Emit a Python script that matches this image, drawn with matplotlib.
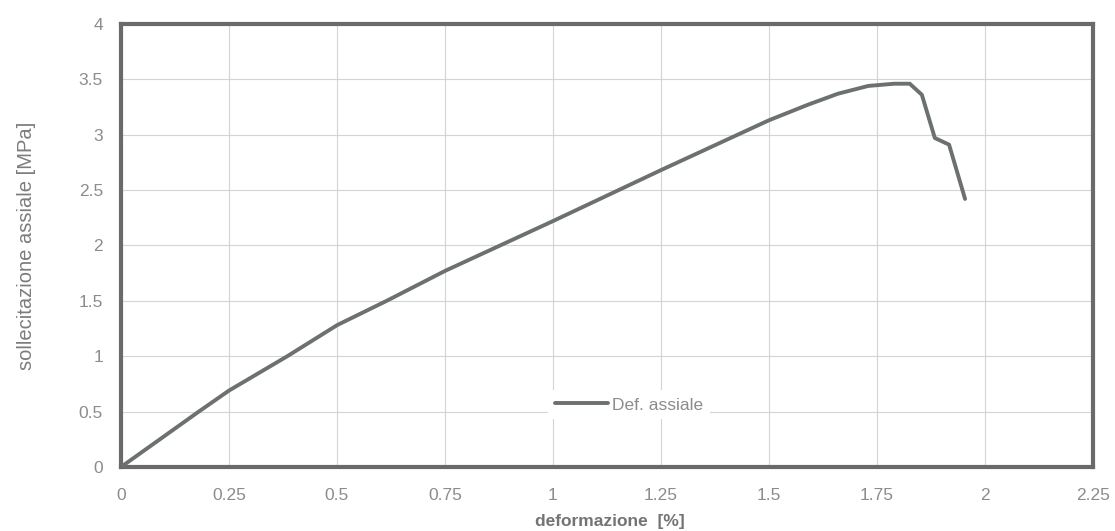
import matplotlib
matplotlib.use("Agg")
import matplotlib.pyplot as plt

deformazione = [0, 0.18, 0.25, 0.385, 0.5, 0.615, 0.75, 1.0, 1.25, 1.5, 1.59, 1.66,
                1.73, 1.79, 1.826, 1.854, 1.884, 1.917, 1.954]
sollecitazione = [0, 0.5, 0.69, 1.0, 1.28, 1.5, 1.77, 2.22, 2.68, 3.13, 3.27, 3.37,
                  3.44, 3.46, 3.46, 3.36, 2.97, 2.91, 2.42]
xticks = [0, 0.25, 0.5, 0.75, 1, 1.25, 1.5, 1.75, 2, 2.25]
xticklabels = ["0", "0.25", "0.5", "0.75", "1", "1.25", "1.5", "1.75", "2", "2.25"]
yticks = [0, 0.5, 1, 1.5, 2, 2.5, 3, 3.5, 4]
yticklabels = ["0", "0.5", "1", "1.5", "2", "2.5", "3", "3.5", "4"]

plt.rcParams['font.family'] = ['Liberation Sans', 'DejaVu Sans']

fig = plt.figure(figsize=(11.15, 5.31), dpi=100)
ax = fig.add_axes([0.1085, 0.1205, 0.8717, 0.8345])

ax.plot(deformazione, sollecitazione, color="#6c7070", lw=2.8, label="Def. assiale",
        solid_joinstyle="round", solid_capstyle="round", zorder=3)

ax.set_xlim(0, 2.25)
ax.set_ylim(0, 4)
ax.set_xticks(xticks)
ax.set_xticklabels(xticklabels)
ax.set_yticks(yticks)
ax.set_yticklabels(yticklabels)
ax.grid(True, color="#d4d4d4", lw=0.8)
ax.set_axisbelow(True)
ax.tick_params(length=0, labelsize=12.5, labelcolor="#8c8c8c")
ax.tick_params(axis="x", pad=15)
ax.tick_params(axis="y", pad=13)
for s in ax.spines.values():
    s.set_color("#6a6a6a")
    s.set_linewidth(3)

ax.set_xlabel("deformazione  [%]", fontsize=12.5, color="#747474", fontweight="bold")
ax.xaxis.set_label_coords(0.503, -0.106)
ax.set_ylabel("sollecitazione assiale [MPa]", fontsize=14.5, color="#7c7c7c")
ax.yaxis.set_label_coords(-0.087, 0.5)

leg = ax.legend(loc="center left", bbox_to_anchor=(0.439, 0.14), frameon=True,
                fontsize=12.5, handlelength=3.05, handletextpad=0.25, borderpad=0.4,
                borderaxespad=0)
leg.get_frame().set_edgecolor("none")
leg.get_frame().set_facecolor("white")
leg.get_frame().set_alpha(1)
leg.get_frame().set_boxstyle("square", pad=0)
for t in leg.get_texts():
    t.set_color("#8c8c8c")

fig.savefig("out.png", dpi=100)
